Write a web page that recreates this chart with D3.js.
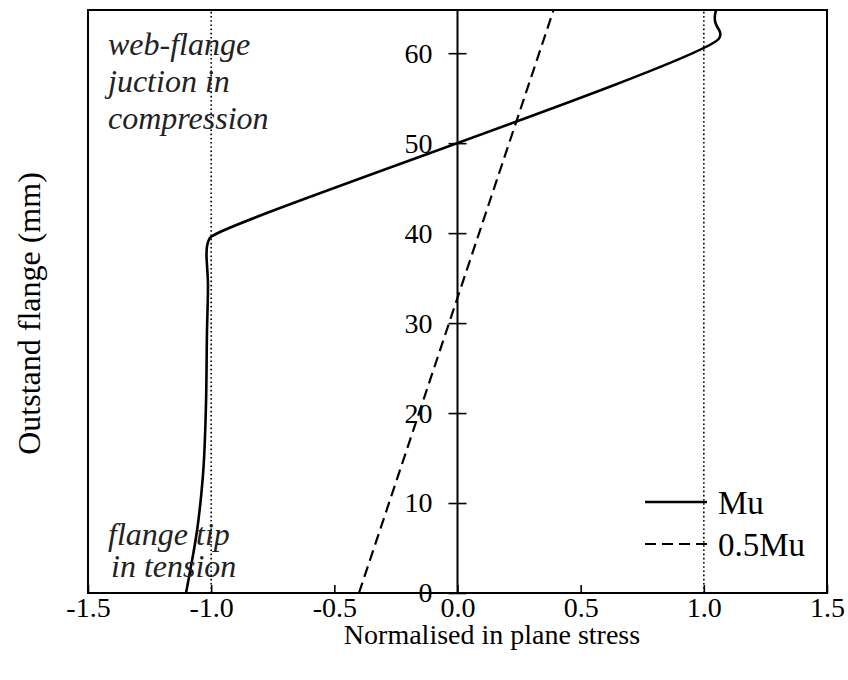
<!DOCTYPE html>
<html>
<head>
<meta charset="utf-8">
<script src="https://cdn.jsdelivr.net/npm/d3@7"></script>
<style>
  html, body { margin: 0; padding: 0; background: #fff; }
  svg { display: block; font-family: "Liberation Serif", "Times New Roman", serif; }
</style>
</head>
<body>
<svg id="chart" width="848" height="680"></svg>
<script>
// Stress distribution across the outstand flange (normalised by yield)
const muStress = [-1.102, -1.075, -1.057, -1.040, -1.030, -1.021, -1.017, -1.013, -1.017, -1.019, -1.017, -1.010, -1.000, 1.061, 1.066, 1.055, 1.046, 1.045, 1.050];
const muHeight = [0, 4, 7, 11, 14.4, 21, 29, 34.4, 36.5, 37.5, 38.5, 39.2, 39.6, 61.6, 62.3, 62.9, 63.5, 64.2, 64.8];

const halfMuStress = [-0.40, 0.39];
const halfMuHeight = [0, 64.8];

const xTicks = [-1.5, -1.0, -0.5, 0.0, 0.5, 1.0, 1.5];
const yTicks = [0, 10, 20, 30, 40, 50, 60];
const yieldLines = [-1.0, 1.0];

const seriesNames = ["Mu", "0.5Mu"];

const svg = d3.select("#chart");
const margin = { top: 10, right: 21, bottom: 87, left: 88 };
const W = 848, H = 680;

const x = d3.scaleLinear().domain([-1.5, 1.5]).range([margin.left, W - margin.right]);
const y = d3.scaleLinear().domain([0, 64.8]).range([H - margin.bottom, margin.top]);

// dotted yield lines
svg.append("g").selectAll("line").data(yieldLines).join("line")
  .attr("x1", d => x(d)).attr("x2", d => x(d))
  .attr("y1", y(0)).attr("y2", y(64.8))
  .attr("stroke", "#000").attr("stroke-width", 1.6)
  .attr("stroke-dasharray", "1.6,2.6");

// x axis along the bottom, ticks pointing inwards
const xAxis = svg.append("g")
  .attr("transform", `translate(0,${y(0)})`)
  .call(d3.axisBottom(x).tickValues(xTicks).tickSizeInner(-8).tickSizeOuter(0).tickPadding(4)
    .tickFormat(d => d.toFixed(1)));
xAxis.select(".domain").remove();
xAxis.selectAll(".tick line").attr("stroke-width", 1.6);
xAxis.selectAll(".tick text").attr("font-size", 28).attr("font-family", "Liberation Serif").attr("fill", "#000");

// y axis through x = 0 with crossing ticks
const yAxis = svg.append("g")
  .attr("transform", `translate(${x(0)},0)`)
  .call(d3.axisLeft(y).tickValues(yTicks).tickSizeInner(9).tickSizeOuter(0).tickPadding(16)
    .tickFormat(d3.format("d")));
yAxis.select(".domain").remove();
yAxis.selectAll(".tick line").attr("x1", 9).attr("x2", -9).attr("stroke-width", 1.6);
yAxis.selectAll(".tick text").attr("font-size", 28).attr("font-family", "Liberation Serif").attr("fill", "#000");
svg.append("line")
  .attr("x1", x(0)).attr("x2", x(0)).attr("y1", y(0)).attr("y2", y(64.8))
  .attr("stroke", "#000").attr("stroke-width", 2);

// plot frame
svg.append("rect")
  .attr("x", x(-1.5)).attr("y", y(64.8))
  .attr("width", x(1.5) - x(-1.5)).attr("height", y(0) - y(64.8))
  .attr("fill", "none").attr("stroke", "#000").attr("stroke-width", 2);

const line = d3.line().x(d => x(d[0])).y(d => y(d[1]));

svg.append("path")
  .datum(d3.zip(halfMuStress, halfMuHeight))
  .attr("d", line)
  .attr("fill", "none").attr("stroke", "#000").attr("stroke-width", 2.2)
  .attr("stroke-dasharray", "11,6");

svg.append("path")
  .datum(d3.zip(muStress, muHeight))
  .attr("d", line.curve(d3.curveCatmullRom.alpha(0.5)))
  .attr("fill", "none").attr("stroke", "#000").attr("stroke-width", 2.6)
  .attr("stroke-linejoin", "round");

// annotations
const notes = [
  { text: "web-flange", x: 108, y: 55 },
  { text: "juction in", x: 108, y: 92 },
  { text: "compression", x: 108, y: 129 },
  { text: "flange tip", x: 108, y: 545 },
  { text: "in tension", x: 111, y: 577 }
];
svg.append("g").selectAll("text").data(notes).join("text")
  .attr("x", d => d.x).attr("y", d => d.y)
  .attr("font-size", 32).attr("font-style", "italic").attr("fill", "#222")
  .text(d => d.text);

// legend
const legend = svg.append("g");
const dashes = [null, "11,6"];
seriesNames.forEach((name, i) => {
  const ly = 502 + i * 42;
  legend.append("line")
    .attr("x1", 645).attr("x2", 707).attr("y1", ly).attr("y2", ly)
    .attr("stroke", "#000").attr("stroke-width", i === 0 ? 2.6 : 2.2)
    .attr("stroke-dasharray", dashes[i]);
  legend.append("text")
    .attr("x", 718).attr("y", ly).attr("dy", "0.35em")
    .attr("font-size", 33).attr("fill", "#000")
    .text(name);
});

// axis titles
svg.append("text")
  .attr("x", 492).attr("y", 644)
  .attr("text-anchor", "middle").attr("font-size", 28).attr("fill", "#000")
  .text("Normalised in plane stress");

svg.append("text")
  .attr("transform", `translate(40,${(y(0) + y(64.8)) / 2 + 12}) rotate(-90)`)
  .attr("text-anchor", "middle").attr("font-size", 32).attr("fill", "#000")
  .text("Outstand flange (mm)");
</script>
</body>
</html>
